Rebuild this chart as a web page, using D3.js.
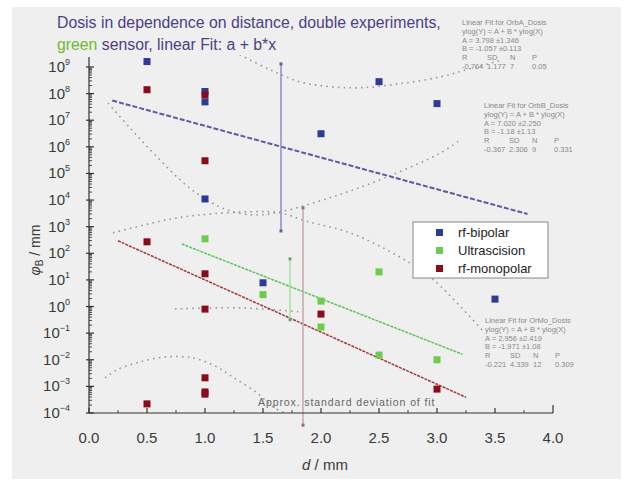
<!DOCTYPE html>
<html><head><meta charset="utf-8">
<script src="https://cdn.jsdelivr.net/npm/d3@7"></script>
<style>
html,body{margin:0;padding:0;background:#fff;}
svg{display:block;font-family:"Liberation Sans",Arial,sans-serif;}
</style></head>
<body><svg id="c" width="631" height="487"></svg>
<script>
// ---- data ----
const seriesNames = ["rf-bipolar","Ultrascision","rf-monopolar"];
const seriesColors = ["#2d3a96","#6ccc4c","#8a0c1c"];
const bipolarX = [0.5, 1.0, 1.0, 1.0, 1.5, 2.0, 2.5, 3.0, 3.5];
const bipolarY = [1.6e9, 1.2e8, 4.9e7, 1.1e4, 7.8, 3.1e6, 2.8e8, 4.2e7, 1.9];
const ultraX = [1.0, 1.5, 2.0, 2.0, 2.5, 2.5, 3.0];
const ultraY = [350, 2.8, 1.6, 0.17, 20, 0.015, 0.01];
const monoX = [0.5, 0.5, 0.5, 1.0, 1.0, 1.0, 1.0, 1.0, 1.0, 1.0, 2.0, 3.0];
const monoY = [1.4e8, 270, 2.2e-4, 9e7, 3e5, 17, 0.8, 2.1e-3, 6.2e-4, 5.1e-4, 0.52, 7.9e-4];
// fit lines: [x, y] endpoints
const bipolarFit = [[0.2, 5.5e7], [3.78, 3.0e3]];
const ultraFit = [[0.8, 224], [3.22, 0.016]];
const monoFit = [[0.25, 295], [3.25, 3.9e-4]];
// approx standard deviation bars: [x, yTop, yBottom]
const sdBars = [[1.655, 1.3e9, 690], [1.733, 62, 0.32], [1.845, 5.1e3, 3.5e-5]];
const sdColors = ["#8c8cd0","#a8e0a0","#c8a8a8"];
// dotted band curves as [x, log10 y]
const bandBipolarUpper = [[1.30,9.46],[1.56,8.90],[1.82,8.44],[2.08,8.26],[2.34,8.22],[2.68,8.37],[3.03,8.63],[3.28,8.93],[3.57,9.27]];
const bandBipolarLower = [[0.207,2.77],[0.672,3.26],[0.957,3.44],[1.388,3.56],[1.647,3.52],[1.879,3.20],[2.25,2.77],[2.68,1.86],[2.97,1.0],[3.41,-0.99]];
const bandMonoUpper = [[0.164,7.65],[0.353,6.71],[0.569,5.70],[0.888,4.38],[1.19,3.63],[1.43,3.44],[1.65,3.56],[2.10,4.12],[2.57,4.87],[3.03,5.77],[3.20,6.26]];
const bandMonoLower = [[0.138,-2.68],[0.241,-2.38],[0.44,-2.08],[0.672,-1.89],[0.897,-1.93],[1.086,-2.23],[1.24,-2.65],[1.45,-3.25],[1.60,-3.81],[1.69,-4.0]];
const bandUltraLower = [[0.741,-0.09],[1.30,-0.05],[1.82,-0.2]];
const xTicks = [0,0.5,1,1.5,2,2.5,3,3.5,4];
const yExps = [-4,-3,-2,-1,0,1,2,3,4,5,6,7,8,9];
const fitBoxes = [
  {x:462, y:25, lines:["Linear Fit for OrbA_Dosis","ylog(Y) = A + B * ylog(X)","A = 3.798 \u00b11.346","B = -1.057 \u00b10.113",["R","SD","N","P"],["-0.764","1.177","7","0.05"]]},
  {x:484, y:108, lines:["Linear Fit for OrbB_Dosis","ylog(Y) = A + B * ylog(X)","A = 7.020 \u00b12.250","B = -1.18 \u00b11.13",["R","SD","N","P"],["-0.367","2.306","9","0.331"]]},
  {x:485, y:323, lines:["Linear Fit for OrMo_Dosis","ylog(Y) = A + B * ylog(X)","A = 2.956 \u00b12.419","B = -1.971 \u00b11.08",["R","SD","N","P"],["-0.221","4.339","12","0.309"]]}
];

// ---- drawing ----
const svg = d3.select("#c");
svg.append("rect").attr("x",12).attr("y",7).attr("width",609).attr("height",472).attr("fill","#efefef");

const x = d3.scaleLinear().domain([0,4]).range([89,553]);
const y = d3.scaleLog().domain([1e-4, Math.pow(10,9.45)]).range([413,55]);

svg.append("defs").append("clipPath").attr("id","plot").append("rect")
  .attr("x",89).attr("y",55).attr("width",464).attr("height",358);

// title
const t = svg.append("text").attr("x",57).attr("y",28).attr("font-size",15.8).attr("fill","#4b3f86");
t.text("Dosis in dependence on distance, double experiments,");
const t2 = svg.append("text").attr("x",57).attr("y",50).attr("font-size",15.8).attr("fill","#4b3f86");
t2.append("tspan").attr("fill","#6cbb2c").text("green");
t2.append("tspan").text(" sensor, linear Fit: a + b*x");

// bands
const bandLine = d3.line().x(d=>x(d[0])).y(d=>y(Math.pow(10,d[1]))).curve(d3.curveCatmullRom);
const g = svg.append("g").attr("clip-path","url(#plot)");
[bandBipolarUpper,bandBipolarLower,bandMonoUpper,bandMonoLower,bandUltraLower].forEach(b=>{
  g.append("path").attr("d",bandLine(b)).attr("fill","none").attr("stroke","#9a9a9a")
   .attr("stroke-width",1.6).attr("stroke-dasharray","1.6,4.2");
});

// fit lines
const fl = d3.line().x(d=>x(d[0])).y(d=>y(d[1]));
svg.append("path").attr("d",fl(bipolarFit)).attr("stroke","#5a5aa6").attr("stroke-width",2).attr("stroke-dasharray","5,2").attr("fill","none");
svg.append("path").attr("d",fl(ultraFit)).attr("stroke","#5cc45c").attr("stroke-width",1.5).attr("stroke-dasharray","3,1").attr("fill","none");
svg.append("path").attr("d",fl(monoFit)).attr("stroke","#a43a3a").attr("stroke-width",1.5).attr("stroke-dasharray","3,1").attr("fill","none");

// sd bars
sdBars.forEach((b,i)=>{
  svg.append("line").attr("x1",x(b[0])).attr("x2",x(b[0])).attr("y1",y(b[1])).attr("y2",y(b[2]))
    .attr("stroke",sdColors[i]).attr("stroke-width",1.5);
  [b[1],b[2]].forEach(v=>svg.append("rect").attr("x",x(b[0])-1.5).attr("y",y(v)-1.5).attr("width",3).attr("height",3).attr("fill",d3.color(sdColors[i]).darker(1)));
});

// points
const sz = 7;
function pts(xs, ysv, col){
  xs.forEach((xv,i)=>{
    svg.append("rect").attr("x",x(xv)-sz/2).attr("y",y(ysv[i])-sz/2).attr("width",sz).attr("height",sz).attr("fill",col);
  });
}
pts(bipolarX,bipolarY,seriesColors[0]);
pts(ultraX,ultraY,seriesColors[1]);
pts(monoX,monoY,seriesColors[2]);

// axes
const ax = svg.append("g").attr("stroke","#333").attr("stroke-width",1.2);
ax.append("line").attr("x1",89).attr("x2",89).attr("y1",413).attr("y2",57);
ax.append("line").attr("x1",89).attr("x2",553).attr("y1",413).attr("y2",413);
yExps.forEach(e=>{
  const yy = y(Math.pow(10,e));
  ax.append("line").attr("x1",86).attr("x2",94).attr("y1",yy).attr("y2",yy);
  if(e<9){ for(let m=2;m<=9;m++){ const ym=y(m*Math.pow(10,e)); ax.append("line").attr("x1",89).attr("x2",92).attr("y1",ym).attr("y2",ym).attr("stroke-width",0.9);} }
  const lab = svg.append("text").attr("x",70).attr("y",yy+5).attr("text-anchor","end").attr("font-size",15).attr("fill","#3a3a3a");
  lab.append("tspan").text("10");
  lab.append("tspan").attr("dy",-7).attr("font-size",9).text(String(e).replace("-","\u2212"));
});
xTicks.forEach((v,i)=>{
  ax.append("line").attr("x1",x(v)).attr("x2",x(v)).attr("y1",413).attr("y2", v===4?405:408);
  if(v<4){ const m=x(v+0.25); ax.append("line").attr("x1",m).attr("x2",m).attr("y1",413).attr("y2",410).attr("stroke-width",0.9);}
  svg.append("text").attr("x",x(v)).attr("y",443).attr("text-anchor","middle").attr("font-size",15).attr("fill","#3a3a3a").text(v.toFixed(1));
});
const xl = svg.append("text").attr("x",325).attr("y",470).attr("text-anchor","middle").attr("font-size",15).attr("fill","#3a3a3a");
xl.append("tspan").attr("font-style","italic").text("d");
xl.append("tspan").text(" / mm");
const yl = svg.append("text").attr("transform","translate(40,250) rotate(-90)").attr("text-anchor","middle").attr("font-size",14).attr("fill","#3a3a3a");
yl.append("tspan").attr("font-style","italic").text("\u03c6");
yl.append("tspan").attr("font-size",10).attr("dy",3).text("B");
yl.append("tspan").attr("dy",-3).text(" / mm");

// legend
svg.append("rect").attr("x",413).attr("y",222).attr("width",135).attr("height",56).attr("fill","#fff").attr("stroke","#888").attr("stroke-width",1);
seriesNames.forEach((n,i)=>{
  svg.append("rect").attr("x",436).attr("y",229+i*18).attr("width",7).attr("height",7).attr("fill",seriesColors[i]);
  svg.append("text").attr("x",458).attr("y",237+i*18).attr("font-size",13).attr("fill","#222").text(n);
});

// fit boxes
fitBoxes.forEach(b=>{
  b.lines.forEach((l,i)=>{
    const yy = b.y + i*8.8;
    if(Array.isArray(l)){
      const cols=[0,25,48,70];
      l.forEach((c,j)=>svg.append("text").attr("x",b.x+cols[j]).attr("y",yy).attr("font-size",7.5).attr("fill","#8a8a8a").text(c));
    } else {
      svg.append("text").attr("x",b.x).attr("y",yy).attr("font-size",7.5).attr("fill","#8a8a8a").text(l);
    }
  });
});

svg.append("text").attr("x",258).attr("y",406).attr("font-size",10.5).attr("letter-spacing",0.9).attr("fill","#666").text("Approx. standard deviation of fit");
</script></body></html>
